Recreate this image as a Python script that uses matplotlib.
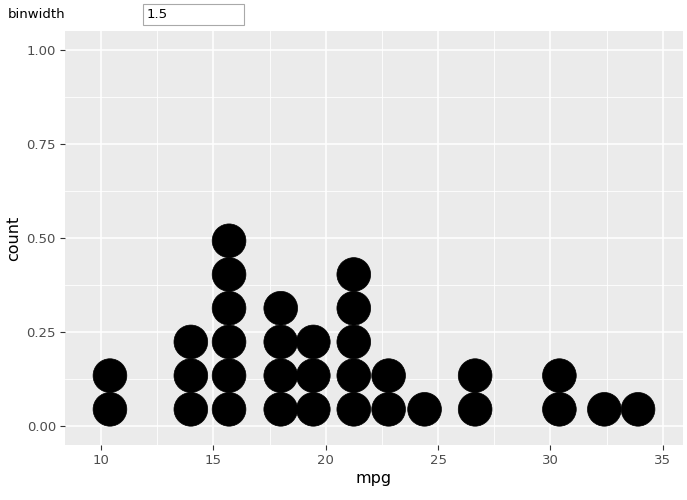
import matplotlib.pyplot as plt
from matplotlib.patches import Ellipse, Rectangle

# stacks read from the dotplot (binwidth 1.5): bin centre and number of dots
bin_centers = [10.4, 14.0, 15.7, 18.0, 19.45, 21.25, 22.8, 24.4, 26.65, 30.4, 32.4, 33.9]
bin_counts = [2, 3, 6, 4, 3, 5, 2, 1, 2, 2, 1, 1]
binwidth = 1.5

x_ticks = [10, 15, 20, 25, 30, 35]
y_ticks = [0.0, 0.25, 0.5, 0.75, 1.0]
y_tick_labels = ['0.00', '0.25', '0.50', '0.75', '1.00']

W, H = 687, 500
fig = plt.figure(figsize=(W / 100, H / 100), dpi=100)

# panel in pixel coordinates
left, right, top, bottom = 65, 683, 31, 445
ax = fig.add_axes([left / W, 1 - bottom / H, (right - left) / W, (bottom - top) / H])
ax.set_facecolor('#EBEBEB')
for s in ax.spines.values():
    s.set_visible(False)

xlim = (8.4, 35.9)
ylim = (-0.05, 1.05)
ax.set_xlim(*xlim)
ax.set_ylim(*ylim)

# grid, ggplot style
for v in [12.5, 17.5, 22.5, 27.5, 32.5]:
    ax.axvline(v, color='white', lw=0.6, zorder=0)
for v in [0.125, 0.375, 0.625, 0.875]:
    ax.axhline(v, color='white', lw=0.6, zorder=0)
for v in x_ticks:
    ax.axvline(v, color='white', lw=1.1, zorder=0)
for v in y_ticks:
    ax.axhline(v, color='white', lw=1.1, zorder=0)

# dot diameter in y units so the dots are round on screen
px_per_x = (right - left) / (xlim[1] - xlim[0])
px_per_y = (bottom - top) / (ylim[1] - ylim[0])
dot_h = binwidth * px_per_x / px_per_y

for cx, n in zip(bin_centers, bin_counts):
    for i in range(n):
        ax.add_patch(Ellipse((cx, (i + 0.5) * dot_h), binwidth, dot_h,
                             facecolor='black', edgecolor='black', lw=0.5, zorder=3))

ax.set_xticks(x_ticks)
ax.set_yticks(y_ticks)
ax.set_yticklabels(y_tick_labels)
ax.tick_params(axis='both', colors='#333333', length=3.5, width=0.8,
               labelcolor='#4D4D4D', labelsize=9.5, pad=3)
ax.set_xlabel('mpg', fontsize=11.5, labelpad=3)
ax.set_ylabel('count', fontsize=11.5, labelpad=4)

# binwidth input widget above the plot
fig.text(8 / W, 1 - 14 / H, 'binwidth', fontsize=9.5, va='center', ha='left')
fig.patches.append(Rectangle((143 / W, 1 - 25 / H), 101 / W, 21 / H,
                             transform=fig.transFigure, facecolor='white',
                             edgecolor='#A9A9A9', lw=0.8))
fig.text(147 / W, 1 - 14 / H, '1.5', fontsize=9.5, va='center', ha='left')

fig.savefig('out.png', dpi=100)
